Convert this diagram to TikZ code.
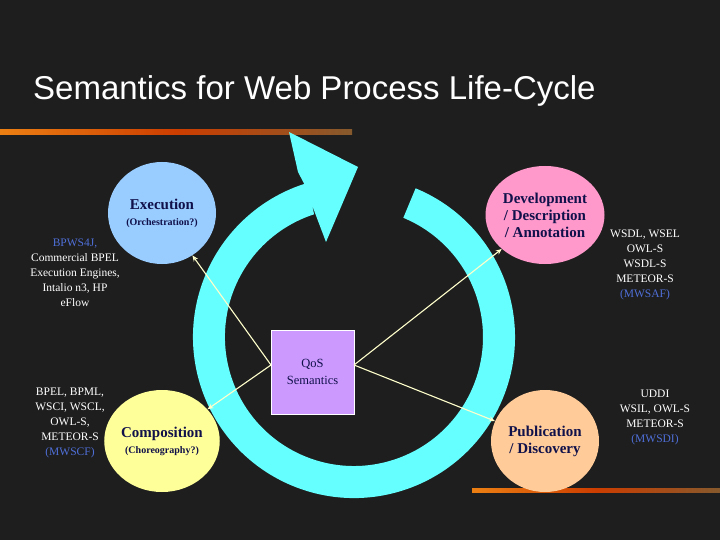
\documentclass[tikz,border=0pt]{standalone}
\usepackage{fontspec}
\setmainfont{Liberation Serif}
\newfontfamily\titlefont{Liberation Sans}
\usetikzlibrary{shapes.geometric,arrows.meta}
\definecolor{bg}{HTML}{1E1E1E}
\definecolor{ring}{HTML}{66FFFF}
\definecolor{navy}{HTML}{10104A}
\definecolor{lnk}{HTML}{4F6FD8}
\definecolor{lnc}{HTML}{FFFFCC}
\begin{document}
\begin{tikzpicture}[x=1pt,y=-1pt,
  phase/.style={ellipse,minimum width=108,minimum height=102,inner sep=0pt,align=center,text=navy,font=\bfseries\fontsize{15}{18}\selectfont},
  side/.style={align=center,text=white,font=\fontsize{11.5}{15}\selectfont},
  con/.style={draw=lnc,line width=1.1pt,-{Stealth[length=6pt,width=5pt]}},
  bar/.style={left color=orange!70!brown,right color=brown!70!black,middle color=orange!60!red!80!black}]
\fill[bg] (0,0) rectangle (720,540);
\useasboundingbox (0,0) rectangle (720,540);
\node[anchor=base west,text=white,font=\titlefont\fontsize{33}{35}\selectfont,inner sep=0] (title) at (33,100) {Semantics for Web Process Life-Cycle};
\shade[bar] (0,130) rectangle (352,135);
\shade[bar] (472,488) rectangle (720,492);
% ring
\fill[ring] (415.6,188.3) arc[start angle=-67.5,end angle=252,radius=161]
  -- (298,172) -- (289,132) -- (358,167) -- (326,242) -- (312,205)
  -- (314.1,214.3) arc[start angle=252,end angle=-67.5,radius=129] -- cycle;
% nodes
\node[phase,fill={rgb,255:red,153;green,204;blue,255}] (exec) at (162,213) {Execution\\[-2pt]{\fontsize{10}{12}\selectfont(Orchestration?)}};
\node[phase,fill={rgb,255:red,255;green,153;blue,204},minimum height=98] (dev) at (545,215) {Development\\[-1pt]/ Description\\[-1pt]/ Annotation};
\node[phase,fill={rgb,255:red,255;green,255;blue,153}] (comp) at (162,441) {Composition\\[-2pt]{\fontsize{10}{12}\selectfont(Choreography?)}};
\node[phase,fill={rgb,255:red,255;green,204;blue,153}] (pub) at (545,441) {Publication\\[-1pt]/ Discovery};
\node[draw=white,line width=0.8pt,fill={rgb,255:red,204;green,153;blue,255},minimum width=83,minimum height=84,inner sep=0,align=center,text=navy,font=\fontsize{12.5}{17}\selectfont] (qos) at (312.5,372) {QoS\\Semantics};
\coordinate (qL) at (271,365);
\coordinate (qR) at (354,365);
\draw[con] (qL) -- (exec);
\draw[con] (qL) -- (comp);
\draw[con] (qR) -- (dev);
\draw[con] (qR) -- (pub);
% side texts
\node[side] (t1) at (75,273) {{\color{lnk}BPWS4J,}\\Commercial BPEL\\Execution Engines,\\Intalio n3, HP\\eFlow};
\node[side] (t2) at (645,265) {WSDL, WSEL\\OWL-S\\WSDL-S\\METEOR-S\\{\color{lnk}(MWSAF)}};
\node[side] (t3) at (70,423) {BPEL, BPML,\\WSCI, WSCL,\\OWL-S,\\METEOR-S\\{\color{lnk}(MWSCF)}};
\node[side] (t4) at (655,417) {UDDI\\WSIL, OWL-S\\METEOR-S\\{\color{lnk}(MWSDI)}};
\end{tikzpicture}
\end{document}
